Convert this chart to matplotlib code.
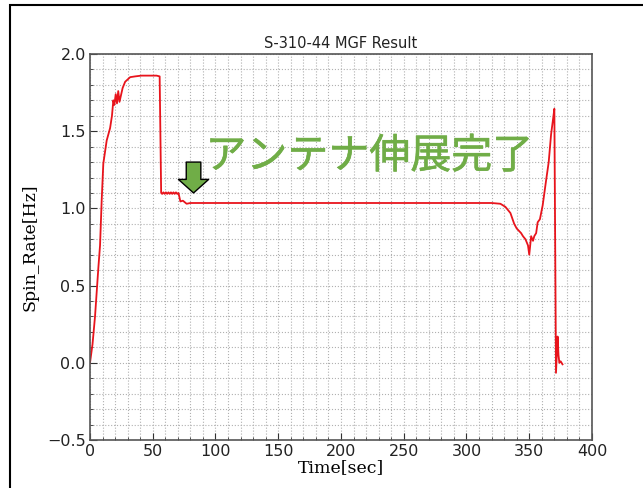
import numpy as np
import matplotlib.pyplot as plt
import matplotlib.patheffects as pe
from matplotlib.patches import Rectangle
from matplotlib.ticker import MultipleLocator

# spin rate
t = [0, 2, 4, 6.7, 8, 9.3, 10.6, 13.3, 16, 17.5, 18.6, 19.4, 20.5, 21.5, 22.5, 23.5, 26, 28, 32, 36, 41, 47, 53, 55.5,
     56.7, 57.5, 58.5, 59.5, 60.5, 61.5, 62.5, 63.5, 64.5, 65.5, 66.5, 67.5, 68.5, 69.5, 70.5, 72, 74, 77, 80,
     120, 200, 280, 320, 327, 331, 335, 338, 340, 343.5, 345, 347, 349, 350, 351.5, 353, 354,
     355.5, 356.7, 358.5, 360.7, 363.4, 365.5, 367.4, 369, 370,
     371.3, 372.6, 373.3, 374, 375, 376.5]
rate = [0, 0.12, 0.30, 0.62, 0.76, 1.05, 1.29, 1.44, 1.52, 1.60, 1.70, 1.67, 1.74, 1.68, 1.76, 1.69, 1.78, 1.82, 1.85, 1.855, 1.86, 1.86, 1.86, 1.855,
        1.10, 1.094, 1.104, 1.094, 1.104, 1.094, 1.104, 1.094, 1.104, 1.094, 1.104, 1.094, 1.104, 1.094, 1.10, 1.045, 1.05, 1.03, 1.035,
        1.035, 1.035, 1.035, 1.035, 1.03, 1.01, 0.97, 0.90, 0.87, 0.84, 0.82, 0.80, 0.76, 0.70, 0.82, 0.79, 0.82,
        0.84, 0.91, 0.93, 1.02, 1.18, 1.30, 1.48, 1.58, 1.645,
        -0.065, 0.17, 0.05, 0.0, 0.01, -0.01]

title = "S-310-44 MGF Result"
note = "アンテナ伸展完了"
green = "#70AD47"

fig = plt.figure(figsize=(6.43, 4.88), dpi=100)
# slide frame
fig.patches.append(Rectangle((10 / 643, -0.1), 1.2, 1 - 5 / 488 + 0.1, transform=fig.transFigure,
                             fill=False, ec="black", lw=1.5))

ax = fig.add_axes([90 / 643, 1 - 440 / 488, 502 / 643, 386 / 488])
ax.plot(t, rate, color="#e8141c", lw=1.3)

ax.set_xlim(0, 400)
ax.set_ylim(-0.5, 2.0)
ax.xaxis.set_major_locator(MultipleLocator(50))
ax.xaxis.set_minor_locator(MultipleLocator(10))
ax.yaxis.set_major_locator(MultipleLocator(0.5))
ax.yaxis.set_minor_locator(MultipleLocator(0.1))
ax.grid(which="both", color="#b0b0b0", ls=":", lw=0.8)
ax.set_axisbelow(True)
for s in ax.spines.values():
    s.set_color("#555555")
    s.set_linewidth(1.2)
ax.tick_params(which="both", direction="in", labelsize=11.5, colors="#333333", labelcolor="#222222")
ax.tick_params(which="major", length=5, pad=3)
ax.tick_params(which="minor", length=2.5)

ax.set_title(title, fontsize=10.5, color="#222222", pad=4)
ax.set_xlabel("Time[sec]", family="DejaVu Serif", fontsize=12.5, labelpad=0)
ax.set_ylabel("Spin_Rate[Hz]", family="DejaVu Serif", fontsize=12.5, labelpad=6)

ax.annotate("", xy=(82.5, 1.10), xytext=(82.5, 1.30),
            arrowprops=dict(arrowstyle="simple,head_length=0.65,head_width=1.45,tail_width=0.7",
                            mutation_scale=15, fc=green, ec="black", lw=1.0, shrinkA=0, shrinkB=0))
ax.text(92, 1.335, note, color=green, fontsize=29.5, va="center", ha="left",
        family=["Noto Sans CJK JP", "DejaVu Sans"],
        path_effects=[pe.withStroke(linewidth=0.4, foreground=green)])

fig.savefig("out.png", dpi=100)
